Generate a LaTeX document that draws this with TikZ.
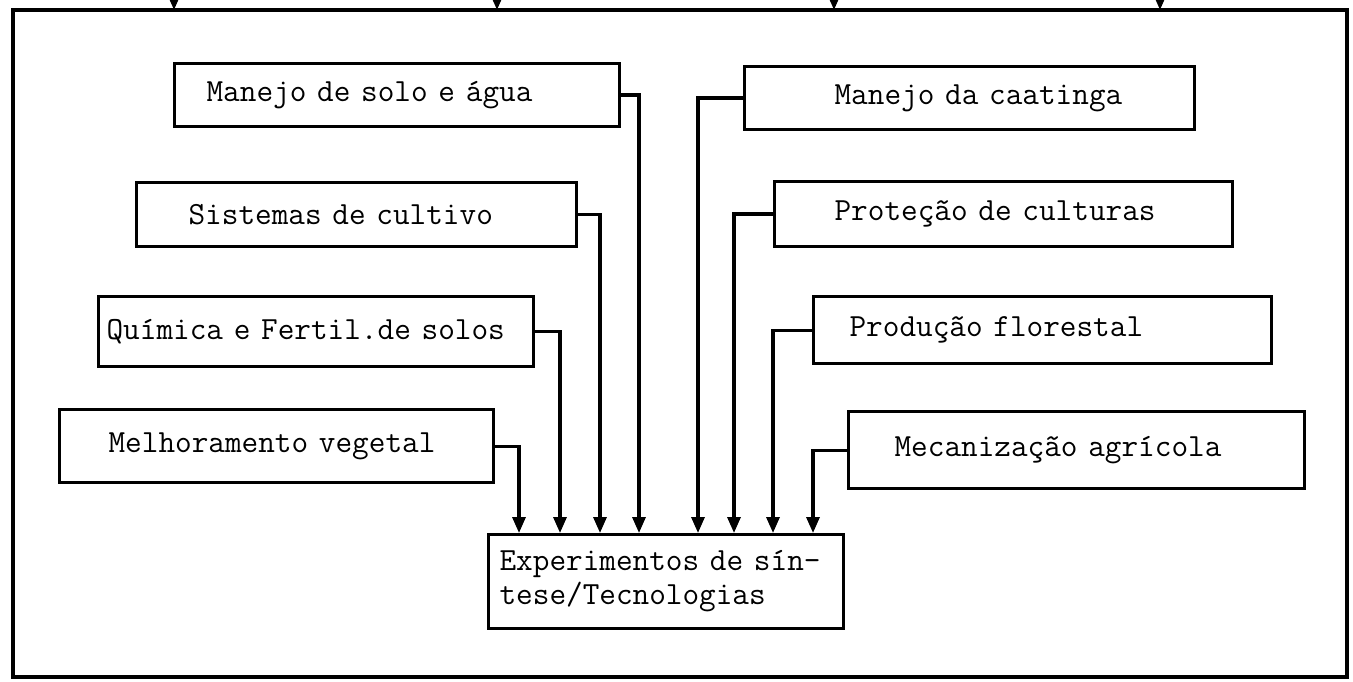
\documentclass[tikz,border=0pt]{standalone}
\usepackage{fontspec}
\usetikzlibrary{arrows.meta}
\newcommand\tyfont{\ttfamily\fontsize{32.3}{34}\selectfont}
\begin{document}
\begin{tikzpicture}[x=1pt,y=-1pt,
  ln/.style={line width=3.2pt},
  box/.style={ln, draw, rectangle, anchor=north west, align=left, inner xsep=0pt, inner ysep=0pt, font=\tyfont},
  arr/.style={ln, -{Triangle[length=16pt,width=13pt]}}]
\useasboundingbox (0,0) rectangle (1353,682);
% outer frame
\draw[ln] (13,10) rectangle (1347,677);
% arrows entering from above
\foreach \i/\x in {1/174,2/497,3/834,4/1160}{
  \coordinate (s\i) at (\x,-12);
  \coordinate (t\i) at (\x,10);
  \draw[arr] (s\i) -- (t\i);
}
% left boxes
\node[box, text width=445pt, minimum height=63pt] (m1) at (173,62) {\hspace*{32pt}Manejo de solo e água};
\node[box, text width=440pt, minimum height=64pt] (m2) at (135,181) {\hspace*{52pt}Sistemas de cultivo};
\node[box, text width=435pt, minimum height=70pt] (m3) at (97,295) {\hspace*{8pt}Química e Fertil.de solos};
\node[box, text width=434pt, minimum height=73pt] (m4) at (58,408) {\hspace*{49pt}Melhoramento vegetal};
% right boxes
\node[box, text width=450pt, minimum height=63pt] (r1) at (743,65) {\hspace*{90pt}Manejo da caatinga};
\node[box, text width=458pt, minimum height=65pt] (r2) at (773,180) {\hspace*{60pt}Proteção de culturas};
\node[box, text width=458pt, minimum height=67pt] (r3) at (812,295) {\hspace*{36pt}Produção florestal};
\node[box, text width=456pt, minimum height=77pt] (r4) at (847,410) {\hspace*{46pt}Mecanização agrícola};
% bottom box
\node[box, text width=355pt, minimum height=94pt] (exp) at (487,533) {\hspace*{11pt}Experimentos de sín-\\\hspace*{11pt}tese/Tecnologias};
% arrow targets on top of bottom box
\foreach \i/\x in {1/519,2/560,3/600,4/639,5/698,6/734,7/773,8/813}{
  \coordinate (a\i) at (\x,533);
}
\draw[arr] (m4.east) -| (a1);
\draw[arr] (m3.east) -| (a2);
\draw[arr] (m2.east) -| (a3);
\draw[arr] (m1.east) -| (a4);
\draw[arr] (r1.west) -| (a5);
\draw[arr] (r2.west) -| (a6);
\draw[arr] (r3.west) -| (a7);
\draw[arr] (r4.west) -| (a8);
\end{tikzpicture}
\end{document}
